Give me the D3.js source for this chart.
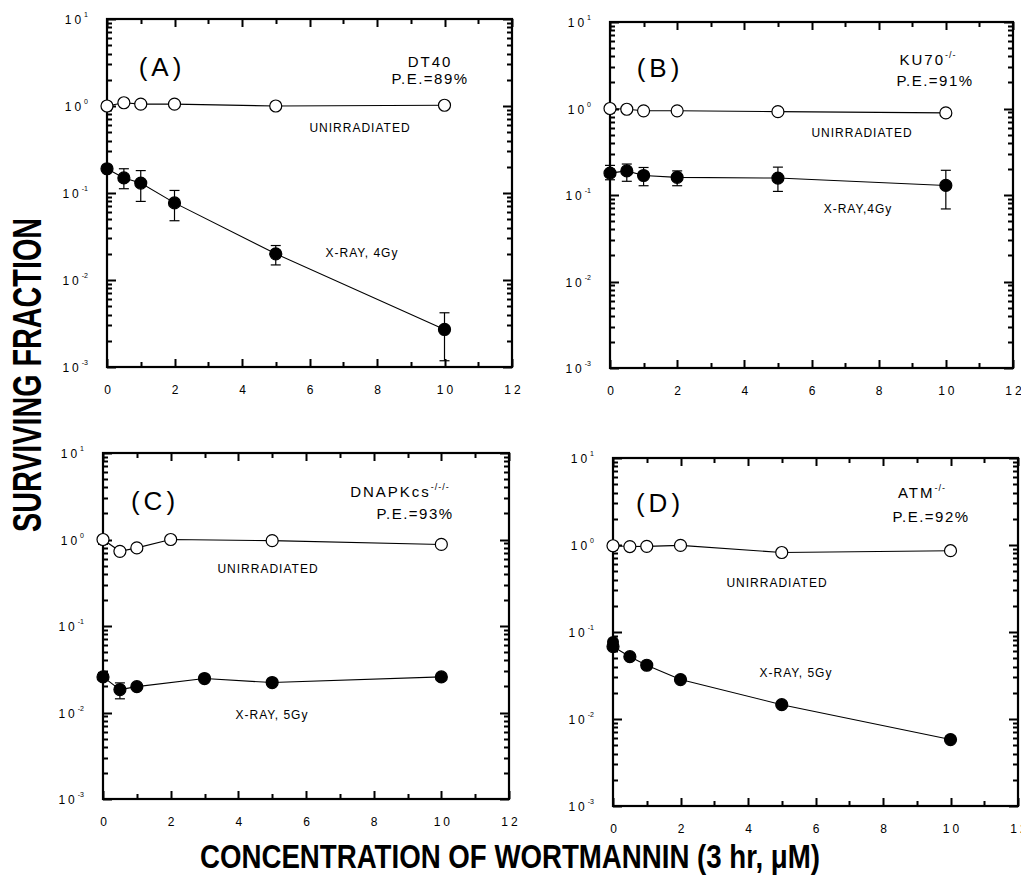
<!DOCTYPE html>
<html><head><meta charset="utf-8">
<script src="https://cdn.jsdelivr.net/npm/d3@7"></script>
<style>body{margin:0;background:#fff;} svg{display:block;} text{font-family:"Liberation Sans",Arial,sans-serif;fill:#000;}</style>
</head><body><svg id="c" width="1021" height="877"></svg>
<script>
// ---- data ----
const xTicks = [0, 2, 4, 6, 8, 10, 12];
const xMinorTicks = [1, 3, 5, 7, 9, 11];
const yDecades = [1e-3, 1e-2, 1e-1, 1, 10];
const yExponents = ["-3", "-2", "-1", "0", "1"];

const concA = [0, 0.5, 1, 2, 5, 10];
const unirrA = [1.0, 1.09, 1.05, 1.05, 1.0, 1.02];
const xrayA = [0.19, 0.149, 0.130, 0.077, 0.020, 0.0027];
const xrayALo = [null, 0.112, 0.080, 0.048, 0.0149, 0.00118];
const xrayAHi = [null, 0.19, 0.181, 0.107, 0.0249, 0.0042];

const concB = [0, 0.5, 1, 2, 5, 10];
const unirrB = [1.0, 0.98, 0.94, 0.94, 0.92, 0.89];
const xrayB = [0.179, 0.19, 0.168, 0.16, 0.157, 0.129];
const xrayBLo = [0.15, 0.144, 0.128, 0.128, 0.11, 0.069];
const xrayBHi = [0.22, 0.228, 0.208, 0.19, 0.21, 0.193];

const concCu = [0, 0.5, 1, 2, 5, 10];
const unirrC = [1.0, 0.73, 0.80, 1.0, 0.97, 0.877];
const unirrCLo = [0.88, 0.68, null, null, null, null];
const unirrCHi = [1.05, 0.78, null, null, null, null];
const concCx = [0, 0.5, 1, 3, 5, 10];
const xrayC = [0.0258, 0.0184, 0.0199, 0.0247, 0.0222, 0.0258];
const xrayCLo = [null, 0.0144, null, null, null, null];
const xrayCHi = [0.029, 0.022, null, null, null, null];

const concD = [0, 0.5, 1, 2, 5, 10];
const unirrD = [0.98, 0.96, 0.965, 0.99, 0.82, 0.86];
const xrayD = [0.068, 0.052, 0.0415, 0.0284, 0.0146, 0.0058];
const xrayDLo = [0.062, null, null, null, null, null];
const xrayDHi = [0.08, null, null, null, null, null];

const panelLabels = ["(A)", "(B)", "(C)", "(D)"];
const cellLines = ["DT40", "KU70", "DNAPKcs", "ATM"];
const cellSup = ["", "-/-", "-/-/-", "-/-"];
const peLabels = ["P.E.=89%", "P.E.=91%", "P.E.=93%", "P.E.=92%"];
const unirrLabel = "UNIRRADIATED";
const xrayLabels = ["X-RAY, 4Gy", "X-RAY,4Gy", "X-RAY, 5Gy", "X-RAY, 5Gy"];
const yTitle = "SURVIVING FRACTION";
const xTitle = "CONCENTRATION OF WORTMANNIN (3 hr, \u03BCM)";

// ---- layout ----
const panels = [
  {left:107, right:512, top:19, bottom:367,
   uX:concA, uY:unirrA, uLo:null, uHi:null, xX:concA, xY:xrayA, xLo:xrayALo, xHi:xrayAHi,
   lab:[162,76], cell:[430,67], pe:[430,84], un:[360,132], xr:[362,257]},
  {left:610, right:1013, top:22, bottom:368,
   uX:concB, uY:unirrB, uLo:null, uHi:null, xX:concB, xY:xrayB, xLo:xrayBLo, xHi:xrayBHi,
   lab:[660,77], cell:[928,65], pe:[935,86], un:[862,137], xr:[858,213]},
  {left:103, right:509, top:453, bottom:799,
   uX:concCu, uY:unirrC, uLo:unirrCLo, uHi:unirrCHi, xX:concCx, xY:xrayC, xLo:xrayCLo, xHi:xrayCHi,
   lab:[155,510], cell:[400,497], pe:[415,519], un:[268,573], xr:[272,719]},
  {left:613, right:1018, top:458, bottom:806,
   uX:concD, uY:unirrD, uLo:null, uHi:null, xX:concD, xY:xrayD, xLo:xrayDLo, xHi:xrayDHi,
   lab:[660,512], cell:[922,498], pe:[931,522], un:[777,587], xr:[796,677]},
];

const svg = d3.select("#c");
const minorY = [];
yDecades.slice(0, -1).forEach(d => { for (let k = 2; k <= 9; k++) minorY.push(d * k); });

panels.forEach((p, i) => {
  const x = d3.scaleLinear().domain([0, 12]).range([p.left, p.right]);
  const y = d3.scaleLog().domain([1e-3, 10]).range([p.bottom, p.top]);
  const g = svg.append("g");

  // bottom axis labels via d3 axis
  const bx = g.append("g").attr("transform", `translate(0,${p.bottom})`)
    .call(d3.axisBottom(x).tickValues(xTicks).tickSize(0).tickPadding(18).tickFormat(d3.format("d")));
  bx.select(".domain").remove();
  bx.selectAll("line").remove();
  bx.selectAll("text").attr("font-size", 12).attr("letter-spacing", "3px").attr("dx", "1.5px")
    .attr("font-family", "Liberation Sans, Arial, sans-serif").attr("fill", "#000");

  // inward ticks, built from the scales
  const xt = xTicks.map(v => [v, 8]).concat(xMinorTicks.map(v => [v, 5]));
  const yt = yDecades.map(v => [v, 9]).concat(minorY.map(v => [v, 5]));
  const path = d3.path();
  xt.forEach(([v, len]) => {
    const px = Math.round(x(v)) + 0.5;
    path.moveTo(px, p.bottom); path.lineTo(px, p.bottom - len);
    path.moveTo(px, p.top); path.lineTo(px, p.top + len);
  });
  yt.forEach(([v, len]) => {
    const py = Math.round(y(v)) + 0.5;
    path.moveTo(p.left, py); path.lineTo(p.left + len, py);
    path.moveTo(p.right, py); path.lineTo(p.right - len, py);
  });
  g.append("path").attr("d", path.toString()).attr("fill", "none")
    .attr("stroke", "#000").attr("stroke-width", 2);

  // y labels 10^n
  yDecades.forEach((d, k) => {
    const t = g.append("text").attr("x", p.left - 19).attr("y", y(d) + 5)
      .attr("text-anchor", "end").attr("font-size", 12);
    t.append("tspan").text("10").attr("letter-spacing", "3px");
    t.append("tspan").text(yExponents[k]).attr("font-size", 7).attr("dy", -7);
  });
  // frame
  g.append("rect").attr("x", p.left).attr("y", p.top)
    .attr("width", p.right - p.left).attr("height", p.bottom - p.top)
    .attr("fill", "none").attr("stroke", "#000").attr("stroke-width", 2.2);

  const line = d3.line().x(d => x(d[0])).y(d => y(d[1]));
  function series(xs, ys, lo, hi, filled) {
    const pts = xs.map((v, k) => [v, ys[k]]);
    g.append("path").datum(pts).attr("d", line).attr("fill", "none").attr("stroke", "#000").attr("stroke-width", 1.1);
    if (lo || hi) {
      xs.forEach((v, k) => {
        const l = lo && lo[k] != null ? lo[k] : ys[k];
        const h = hi && hi[k] != null ? hi[k] : ys[k];
        if (l === ys[k] && h === ys[k]) return;
        const cx = x(v);
        g.append("line").attr("x1", cx).attr("x2", cx).attr("y1", y(l)).attr("y2", y(h)).attr("stroke", "#000").attr("stroke-width", 1.2);
        [l, h].forEach(e => { if (e !== ys[k]) g.append("line").attr("x1", cx - 5).attr("x2", cx + 5).attr("y1", y(e)).attr("y2", y(e)).attr("stroke", "#000").attr("stroke-width", 1.2); });
      });
    }
    g.selectAll(null).data(pts).join("circle")
      .attr("cx", d => x(d[0])).attr("cy", d => y(d[1])).attr("r", 6)
      .attr("fill", filled ? "#000" : "#fff").attr("stroke", "#000").attr("stroke-width", 1.2);
  }
  series(p.uX, p.uY, p.uLo, p.uHi, false);
  series(p.xX, p.xY, p.xLo, p.xHi, true);
  if (i === 3) {
    g.append("circle").attr("cx", x(concD[0])).attr("cy", y(0.0767)).attr("r", 6).attr("fill", "#000");
  }

  // annotations
  g.append("text").attr("x", p.lab[0]).attr("y", p.lab[1]).attr("text-anchor", "middle")
    .attr("font-size", 26).attr("letter-spacing", "4px").text(panelLabels[i]);
  const ct = g.append("text").attr("x", p.cell[0]).attr("y", p.cell[1]).attr("text-anchor", "middle")
    .attr("font-size", 15).attr("letter-spacing", "2px");
  ct.append("tspan").text(cellLines[i]);
  if (cellSup[i]) ct.append("tspan").text(cellSup[i]).attr("font-size", 9).attr("dy", -7).attr("letter-spacing", "1px");
  g.append("text").attr("x", p.pe[0]).attr("y", p.pe[1]).attr("text-anchor", "middle")
    .attr("font-size", 15).attr("letter-spacing", "1.5px").text(peLabels[i]);
  g.append("text").attr("x", p.un[0]).attr("y", p.un[1]).attr("text-anchor", "middle")
    .attr("font-size", 12).attr("letter-spacing", "1px").text(unirrLabel);
  g.append("text").attr("x", p.xr[0]).attr("y", p.xr[1]).attr("text-anchor", "middle")
    .attr("font-size", 12).attr("letter-spacing", "1px").text(xrayLabels[i]);
});

// axis titles
svg.append("text").attr("transform", "translate(41,375) rotate(-90)")
  .attr("text-anchor", "middle").attr("font-size", 40).attr("font-weight", "bold")
  .attr("textLength", 314).attr("lengthAdjust", "spacingAndGlyphs").text(yTitle);
svg.append("text").attr("x", 510).attr("y", 868)
  .attr("text-anchor", "middle").attr("font-size", 33).attr("font-weight", "bold")
  .attr("textLength", 620).attr("lengthAdjust", "spacingAndGlyphs").text(xTitle);
</script></body></html>
